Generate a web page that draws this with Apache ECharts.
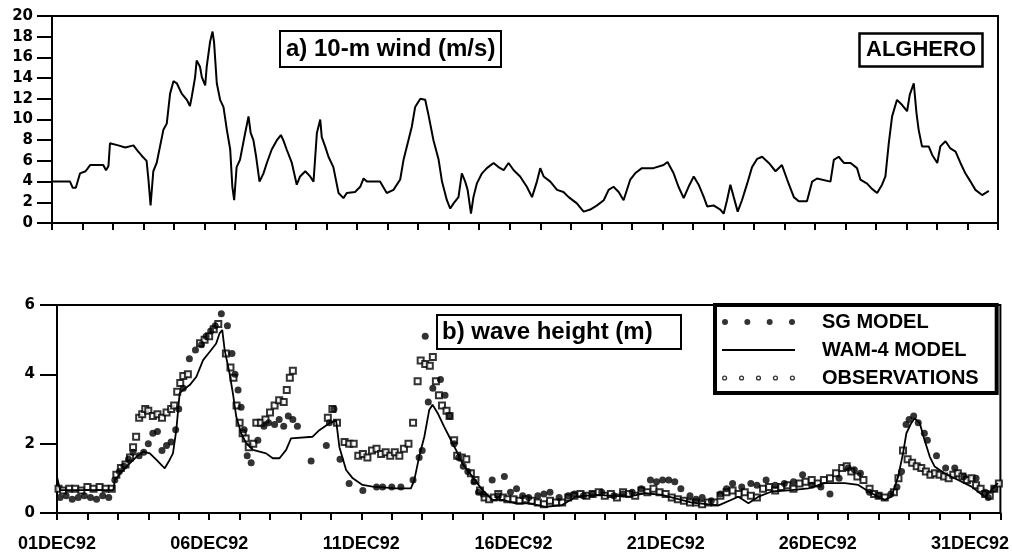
<!DOCTYPE html>
<html><head><meta charset="utf-8">
<script src="https://cdn.jsdelivr.net/npm/echarts@6/dist/echarts.min.js"></script>
<style>html,body{margin:0;padding:0;background:#fff}#c{width:1012px;height:557px}</style>
</head><body><div id="c"></div>
<script>
// ---- data (x = day of December 1992, Dec 1 00h = 1) ----
const windDays = [1.00,1.59,1.68,1.78,1.92,2.10,2.25,2.68,2.77,2.85,2.90,3.17,3.40,3.67,3.80,3.94,4.10,4.16,4.23,4.32,4.43,4.54,4.65,4.76,4.87,4.98,5.09,5.25,5.42,5.52,5.58,5.69,5.74,5.85,5.91,6.02,6.07,6.18,6.26,6.31,6.40,6.51,6.62,6.73,6.84,6.91,6.97,7.05,7.16,7.33,7.44,7.51,7.60,7.69,7.80,7.93,8.04,8.20,8.37,8.50,8.58,8.69,8.86,9.02,9.13,9.30,9.46,9.57,9.68,9.79,9.84,9.95,10.06,10.22,10.39,10.55,10.66,10.93,11.10,11.21,11.32,11.75,11.97,12.19,12.41,12.52,12.68,12.79,12.90,13.07,13.23,13.34,13.50,13.67,13.78,13.94,14.05,14.16,14.32,14.43,14.54,14.62,14.73,14.81,14.92,15.09,15.25,15.47,15.63,15.80,15.96,16.13,16.34,16.56,16.73,16.89,17.00,17.11,17.33,17.55,17.76,17.93,18.20,18.42,18.64,18.86,19.08,19.24,19.40,19.57,19.73,19.95,20.11,20.33,20.71,21.04,21.17,21.37,21.53,21.70,21.86,22.03,22.19,22.36,22.47,22.68,22.90,23.01,23.12,23.23,23.34,23.47,23.61,23.78,23.94,24.11,24.27,24.49,24.71,24.92,25.09,25.31,25.47,25.74,25.91,26.07,26.51,26.62,26.78,26.95,27.17,27.38,27.49,27.71,27.87,28.04,28.20,28.31,28.42,28.53,28.69,28.86,29.02,29.11,29.24,29.33,29.40,29.51,29.73,29.84,30.01,30.11,30.28,30.44,30.61,30.77,30.93,31.10,31.26,31.48,31.70];
const windSpeed = [4.0,4.0,3.4,3.4,4.8,5.0,5.6,5.6,5.1,5.5,7.7,7.5,7.3,7.5,7.0,6.5,6.0,4.2,1.7,5.0,5.8,7.4,9.0,9.6,12.5,13.7,13.5,12.5,11.9,11.3,12.2,14.1,15.7,15.1,14.1,13.3,15.1,17.5,18.5,17.5,13.5,11.9,11.2,9.0,7.1,3.5,2.2,5.4,6.1,8.7,10.3,8.7,8.0,6.4,4.0,4.8,5.8,7.1,8.0,8.5,8.0,7.1,5.8,3.7,4.5,5.0,4.5,4.0,8.7,10.0,8.3,7.4,6.4,5.4,2.9,2.4,2.9,3.0,3.5,4.3,4.0,4.0,2.9,3.2,4.2,6.1,8.0,9.3,11.2,12.0,11.9,10.4,8.0,6.1,4.0,2.2,1.4,1.9,2.5,4.8,4.0,3.2,0.9,2.5,3.8,4.8,5.3,5.8,5.4,5.1,5.8,5.1,4.5,3.5,2.5,4.0,5.3,4.5,4.0,3.2,3.0,2.5,1.9,1.1,1.3,1.7,2.2,3.2,3.5,3.0,2.2,4.2,4.8,5.3,5.3,5.6,5.9,4.8,3.5,2.4,3.5,4.5,3.7,2.5,1.6,1.7,1.3,0.9,2.2,3.7,2.5,1.1,2.2,3.8,5.4,6.2,6.4,5.8,5.0,5.6,4.2,2.5,2.1,2.1,4.0,4.3,4.0,6.1,6.4,5.8,5.8,5.3,4.2,3.8,3.3,2.9,3.7,4.5,7.7,10.3,11.9,11.4,10.8,12.4,13.5,10.6,9.0,7.4,7.4,6.6,5.8,7.4,7.9,7.2,6.9,5.8,4.8,4.0,3.2,2.7,3.1];

const wamDays = [1.00,1.10,2.85,2.90,3.17,3.39,3.61,3.83,4.05,4.27,4.54,4.70,4.81,4.92,5.03,5.14,5.36,5.58,5.80,6.02,6.23,6.34,6.43,6.51,6.67,6.78,6.89,7.05,7.22,7.44,7.87,8.09,8.31,8.53,8.69,9.40,9.62,9.95,10.17,10.28,10.50,10.72,11.04,11.37,12.14,12.63,12.74,12.90,13.07,13.23,13.34,13.51,13.72,13.89,14.11,14.32,14.65,14.98,15.31,15.64,16.07,16.51,17.06,17.60,18.04,18.69,19.79,20.33,20.88,21.32,21.86,22.74,23.39,23.72,24.05,24.49,25.14,25.69,26.23,26.89,27.33,27.76,28.20,28.42,28.64,28.80,28.91,29.07,29.18,29.35,29.51,29.68,29.84,30.17,30.61,31.05,31.48,31.70,31.92];
const wamHeight = [1.05,0.66,0.66,0.95,1.24,1.43,1.62,1.77,1.72,1.53,1.29,1.53,1.72,2.39,3.45,3.55,3.69,3.93,4.41,4.65,4.89,5.18,5.28,4.70,4.03,3.45,2.78,2.30,2.01,1.82,1.72,1.58,1.58,1.82,2.15,2.20,2.39,2.59,2.68,1.90,1.24,1.00,0.81,0.76,0.71,0.71,0.95,1.62,2.20,2.97,3.12,2.88,2.49,2.20,1.82,1.43,1.05,0.66,0.38,0.38,0.28,0.28,0.18,0.23,0.47,0.52,0.47,0.57,0.52,0.42,0.30,0.22,0.47,0.28,0.47,0.62,0.66,0.71,0.86,0.86,0.81,0.57,0.38,0.47,1.05,1.72,2.30,2.59,2.73,2.59,2.10,1.62,1.34,1.14,0.95,0.76,0.47,0.66,0.86];

const sgDays = [1.1,1.3,1.5,1.7,1.9,2.1,2.3,2.5,2.7,2.9,3.05,3.2,3.35,3.5,3.7,3.85,4.0,4.15,4.3,4.45,4.6,4.75,4.9,5.0,5.15,5.35,5.55,5.75,5.9,6.05,6.2,6.4,6.6,6.75,6.85,6.95,7.05,7.15,7.25,7.38,7.6,7.8,7.95,8.15,8.3,8.45,8.6,8.75,8.9,9.35,9.85,9.95,10.1,10.3,10.6,11.05,11.5,11.7,12.0,12.3,12.7,12.9,13.0,13.1,13.2,13.35,13.6,13.75,13.9,14.05,14.2,14.35,14.5,14.7,14.85,15.0,15.3,15.5,15.7,15.9,16.1,16.3,16.5,16.8,17.0,17.2,17.5,17.8,18.0,18.3,18.6,18.9,19.3,19.6,19.9,20.2,20.5,20.7,20.9,21.1,21.3,21.5,21.8,22.0,22.2,22.5,22.8,23.0,23.2,23.5,23.8,24.0,24.3,24.6,24.9,25.2,25.5,25.8,26.1,26.4,26.7,27.0,27.2,27.4,27.7,28.0,28.4,28.6,28.75,28.9,29.0,29.15,29.3,29.5,29.6,29.9,30.2,30.5,30.8,31.2,31.5,31.6,31.8];
const sgHeight = [0.45,0.5,0.4,0.45,0.5,0.45,0.4,0.5,0.45,0.95,1.2,1.35,1.55,1.75,1.65,1.75,2.0,2.3,2.35,1.8,1.95,2.05,2.4,3.0,3.6,4.45,4.7,4.85,5.1,5.25,5.4,5.75,5.4,4.6,4.0,3.55,3.05,2.4,1.65,1.45,2.1,2.5,2.6,2.55,2.7,2.5,2.8,2.7,2.5,1.5,1.95,2.6,3.0,1.55,0.85,0.65,0.75,0.75,0.75,0.75,0.95,1.6,1.8,5.1,3.2,3.6,3.85,3.4,2.8,2.0,1.6,1.35,1.2,0.9,0.6,0.55,0.95,0.5,1.05,0.6,0.7,0.5,0.45,0.5,0.55,0.6,0.45,0.5,0.55,0.5,0.55,0.6,0.5,0.55,0.6,0.7,0.95,0.9,0.95,0.95,0.9,0.7,0.5,0.4,0.45,0.35,0.55,0.7,0.85,0.75,0.85,0.8,0.95,0.8,0.85,0.9,1.1,0.8,0.75,0.55,1.0,1.3,1.25,1.15,0.6,0.5,0.55,0.75,1.2,2.55,2.7,2.8,2.6,2.3,2.1,1.65,1.3,1.3,1.05,1.0,0.6,0.45,0.7];

const obsDays = [1.05,1.2,1.4,1.6,1.8,2.0,2.2,2.4,2.6,2.8,2.95,3.1,3.25,3.4,3.5,3.6,3.7,3.8,3.9,4.0,4.15,4.3,4.45,4.6,4.75,4.85,4.95,5.05,5.15,5.3,5.7,5.85,6.0,6.15,6.3,6.55,6.7,6.8,6.9,7.0,7.1,7.2,7.3,7.45,7.55,7.7,7.85,8.0,8.15,8.3,8.45,8.55,8.65,8.75,9.9,10.05,10.2,10.45,10.6,10.75,10.9,11.05,11.2,11.35,11.5,11.65,11.8,11.95,12.1,12.25,12.4,12.55,12.7,12.85,12.95,13.1,13.25,13.35,13.45,13.55,13.65,13.8,13.9,14.05,14.15,14.3,14.45,14.6,14.75,14.9,15.05,15.2,15.35,15.5,15.65,15.8,16.0,16.2,16.4,16.6,16.8,17.0,17.2,17.4,17.6,17.8,18.0,18.2,18.4,18.6,18.8,19.0,19.2,19.4,19.6,19.8,20.0,20.2,20.4,20.6,20.8,21.0,21.2,21.4,21.6,21.8,22.0,22.2,22.4,22.6,22.8,23.0,23.2,23.4,23.6,23.8,24.0,24.2,24.4,24.6,24.8,25.0,25.2,25.4,25.6,25.8,26.0,26.2,26.4,26.6,26.8,26.95,27.1,27.3,27.5,27.7,27.85,28.0,28.2,28.5,28.65,28.8,28.95,29.1,29.25,29.4,29.55,29.7,29.85,30.0,30.15,30.3,30.45,30.6,30.75,30.9,31.05,31.2,31.35,31.5,31.65,31.8,31.95];
const obsHeight = [0.7,0.65,0.7,0.7,0.65,0.75,0.7,0.75,0.7,0.7,1.1,1.3,1.4,1.6,1.9,2.2,2.75,2.85,3.0,2.95,2.8,2.85,2.75,2.9,3.0,3.1,3.5,3.75,3.95,4.0,4.9,5.0,5.1,5.3,5.45,4.6,4.2,3.9,3.1,2.6,2.3,2.15,1.9,2.0,2.6,2.6,2.7,2.9,3.1,3.25,3.2,3.55,3.9,4.1,2.75,3.0,2.6,2.05,2.0,2.0,1.65,1.7,1.6,1.8,1.85,1.7,1.75,1.65,1.75,1.65,1.85,2.0,2.6,3.8,4.4,4.3,4.25,4.5,3.8,3.4,3.1,2.95,2.8,2.1,1.65,1.6,1.55,1.15,0.95,0.65,0.45,0.4,0.45,0.55,0.45,0.4,0.4,0.35,0.4,0.35,0.3,0.25,0.35,0.3,0.3,0.45,0.5,0.55,0.5,0.55,0.6,0.5,0.55,0.45,0.6,0.55,0.5,0.65,0.6,0.7,0.6,0.55,0.45,0.4,0.35,0.3,0.3,0.25,0.3,0.3,0.5,0.6,0.65,0.55,0.6,0.5,0.45,0.7,0.75,0.65,0.75,0.8,0.7,0.85,0.9,0.95,0.85,0.95,1.0,1.15,1.3,1.35,1.2,1.05,0.95,0.7,0.55,0.5,0.45,0.6,1.0,1.8,1.55,1.45,1.35,1.3,1.2,1.1,1.15,1.1,1.05,1.0,1.1,1.15,1.05,0.95,1.0,0.8,0.7,0.55,0.5,0.7,0.85];

const dateTicks = [1, 6, 11, 16, 21, 26, 31];
const dateLabels = ['01DEC92', '06DEC92', '11DEC92', '16DEC92', '21DEC92', '26DEC92', '31DEC92'];
const seriesNames = ['SG MODEL', 'WAM-4 MODEL', 'OBSERVATIONS'];

// ---- build ----
const zip = (a, b) => a.map((v, i) => [v, b[i]]);
const W = 73, H = 6;
const dotsPath = (n, r, inner) => {
  const cs = [];
  for (let i = 0; i < n; i++) cs.push(r + i * (W - 2 * r) / (n - 1));
  const y = H / 2;
  return 'path://' + `M0,0L0,0ZM${W},${H}L${W},${H}Z` + cs.map(c => {
    let p = `M${c - r},${y}A${r},${r} 0 1,0 ${c + r},${y}A${r},${r} 0 1,0 ${c - r},${y}Z`;
    if (inner) p += `M${c - inner},${y}A${inner},${inner} 0 1,1 ${c + inner},${y}A${inner},${inner} 0 1,1 ${c - inner},${y}Z`;
    return p;
  }).join('');
};
const linePath = `path://M0,0L0,0ZM${W},${H}L${W},${H}ZM0,${H / 2 - 0.9}H${W}V${H / 2 + 0.9}H0Z`;

const boldSans = 'Liberation Sans, Arial, sans-serif';
const tickFont = 'DejaVu Sans, sans-serif';
const blk = '#000';

const chart = echarts.init(document.getElementById('c'));
const axisCommon = {
  axisLine: { lineStyle: { color: blk, width: 2 } },
  splitLine: { show: false }
};
chart.setOption({
  animation: false,
  backgroundColor: '#fff',
  title: [
    { text: 'a) 10-m wind (m/s)', left: 280, top: 31, padding: [5, 6, 4, 6], borderColor: blk, borderWidth: 2,
      textStyle: { fontFamily: boldSans, fontWeight: 'bold', fontSize: 24, lineHeight: 27, color: blk } },
    { text: 'ALGHERO', left: 859, top: 33, padding: [4, 7, 4, 7], borderColor: blk, borderWidth: 2.5,
      textStyle: { fontFamily: boldSans, fontWeight: 'bold', fontSize: 22, lineHeight: 26, color: blk } },
    { text: 'b) wave height (m)', left: 437, top: 315, padding: [4, 29, 4, 5], borderColor: blk, borderWidth: 2,
      textStyle: { fontFamily: boldSans, fontWeight: 'bold', fontSize: 24, lineHeight: 26, color: blk } }
  ],
  legend: {
    orient: 'vertical', left: 715, top: 305, padding: [7, 18, 5, 7], itemGap: 8,
    itemWidth: W, itemHeight: H, borderColor: blk, borderWidth: 4, backgroundColor: '#fff',
    selectedMode: false, z: 10,
    textStyle: { fontFamily: boldSans, fontWeight: 'bold', fontSize: 20, lineHeight: 20, color: blk, padding: [0, 0, 0, 22] },
    data: [
      { name: seriesNames[0], icon: dotsPath(4, 3, 0), itemStyle: { borderWidth: 0 } },
      { name: seriesNames[1], icon: linePath, itemStyle: { color: blk, borderWidth: 0 } },
      { name: seriesNames[2], icon: dotsPath(5, 2.6, 1.3), itemStyle: { borderWidth: 0 } }
    ]
  },
  grid: [
    { left: 52, right: 14, top: 16, bottom: 334, show: true, borderColor: blk, borderWidth: 2 },
    { left: 57, right: 10, top: 305, bottom: 44, show: true, borderColor: blk, borderWidth: 2 }
  ],
  xAxis: [
    Object.assign({ gridIndex: 0, type: 'value', min: 1, max: 32, interval: 1,
      axisTick: { length: 7, lineStyle: { color: blk, width: 2 } }, axisLabel: { show: false } }, axisCommon),
    Object.assign({ gridIndex: 1, type: 'value', min: 1, max: 32, interval: 1,
      axisTick: { length: 7, lineStyle: { color: blk, width: 2 } },
      axisLabel: { margin: 22, color: blk, fontFamily: boldSans, fontWeight: 'bold', fontSize: 18,
        formatter: v => { const i = dateTicks.indexOf(Math.round(v)); return i >= 0 ? dateLabels[i] : ''; } } }, axisCommon)
  ],
  yAxis: [
    Object.assign({ gridIndex: 0, type: 'value', min: 0, max: 20, interval: 2,
      axisTick: { length: 15, lineStyle: { color: blk, width: 2 } },
      axisLabel: { margin: 19, color: blk, fontFamily: tickFont, fontWeight: 'bold', fontSize: 15 } }, axisCommon),
    Object.assign({ gridIndex: 1, type: 'value', min: 0, max: 6, interval: 2,
      axisTick: { length: 17, lineStyle: { color: blk, width: 2 } },
      axisLabel: { margin: 22, color: blk, fontFamily: tickFont, fontWeight: 'bold', fontSize: 15 } }, axisCommon)
  ],
  series: [
    { type: 'line', xAxisIndex: 0, yAxisIndex: 0, data: zip(windDays, windSpeed), showSymbol: false, symbol: 'none',
      lineStyle: { color: blk, width: 2 } },
    { name: seriesNames[1], type: 'line', xAxisIndex: 1, yAxisIndex: 1, data: zip(wamDays, wamHeight), symbol: 'none',
      lineStyle: { color: blk, width: 1.8 }, itemStyle: { color: blk } },
    { name: seriesNames[2], type: 'scatter', xAxisIndex: 1, yAxisIndex: 1, data: zip(obsDays, obsHeight),
      symbol: 'emptyRect', symbolSize: 6, itemStyle: { color: blk, borderWidth: 1.3 } },
    { name: seriesNames[0], type: 'scatter', xAxisIndex: 1, yAxisIndex: 1, data: zip(sgDays, sgHeight),
      symbol: 'circle', symbolSize: 7, itemStyle: { color: blk } }
  ]
});
</script></body></html>
